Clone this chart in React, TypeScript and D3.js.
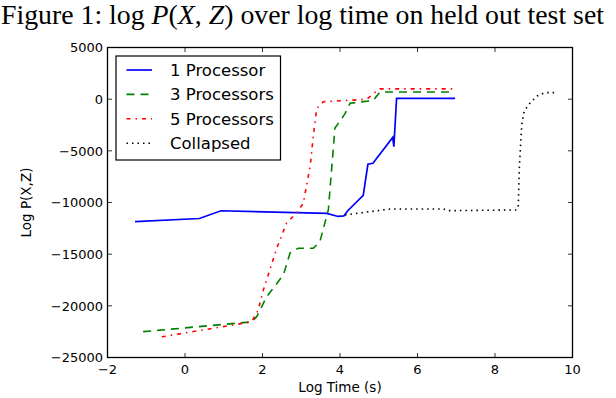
import React from "react";
import * as d3 from "d3";

// values
const proc1X = [-1.29, 0.37, 0.93, 3.66, 3.95, 4.1, 4.2, 4.6, 4.72, 4.85, 5.36, 5.39, 5.46, 6.97];
const proc1Y = [-11850, -11550, -10800, -11050, -11350, -11300, -10800, -9300, -6300, -6200, -3700, -4600, 80, 80];

const proc3X = [-1.08, 1.72, 1.85, 2.11, 2.54, 2.71, 2.92, 3.31, 3.48, 3.7, 3.74, 3.87, 4.13, 4.26, 4.86, 5.03, 6.88];
const proc3Y = [-22500, -21550, -21050, -19100, -17000, -14900, -14430, -14430, -13800, -10700, -8800, -2800, -1400, -400, -120, 700, 700];

const proc5X = [-0.6, 1.72, 1.89, 2.02, 2.19, 2.37, 2.62, 2.88, 3.05, 3.23, 3.31, 3.4, 3.57, 4.69, 4.9, 5.03, 6.92];
const proc5Y = [-23000, -21550, -20400, -18500, -16500, -14400, -12000, -11000, -10100, -6500, -3600, -900, -250, -10, 650, 1000, 1000];

const collX = [4.13, 4.34, 5.29, 6.67, 6.8, 8.56, 8.6, 8.63, 8.69, 8.75, 8.86, 9.08, 9.29, 9.57];
const collY = [-11200, -11100, -10630, -10630, -10790, -10720, -10400, -6500, -2500, -1200, -560, 300, 630, 630];

const xTicks = [-2, 0, 2, 4, 6, 8, 10];
const yTicks = [5000, 0, -5000, -10000, -15000, -20000, -25000];

const seriesNames = ["1 Processor", "3 Processors", "5 Processors", "Collapsed"];

const W = 616;
const H = 398;
const left = 107.5, right = 572.5, top = 47.5, bottom = 357.5;

const series = [
  { name: seriesNames[0], xs: proc1X, ys: proc1Y, color: "#0000ff", dash: "none", width: 1.7 },
  { name: seriesNames[1], xs: proc3X, ys: proc3Y, color: "#008000", dash: "8,6", width: 1.6 },
  { name: seriesNames[2], xs: proc5X, ys: proc5Y, color: "#ff0000", dash: "4,5,1.5,5", width: 1.6 },
  { name: seriesNames[3], xs: collX, ys: collY, color: "#000000", dash: "1.5,4", width: 1.6 },
];

export default function App() {
  const x = d3.scaleLinear().domain([-2, 10]).range([left, right]);
  const y = d3.scaleLinear().domain([-25000, 5000]).range([bottom, top]);
  const line = d3
    .line<[number, number]>()
    .x((d) => x(d[0]))
    .y((d) => y(d[1]));

  const tickFont = { fontFamily: "DejaVu Sans", fontSize: 13 };
  const tl = 4.5;

  return (
    <svg
      width={W}
      height={H}
      style={{ position: "absolute", left: 0, top: 0, background: "#fff" }}
    >
      <text x={1} y={24} fontFamily="Liberation Serif" fontSize={27.8} fill="#000">
        Figure 1: log <tspan fontStyle="italic">P</tspan>(<tspan fontStyle="italic">X</tspan>,{" "}
        <tspan fontStyle="italic">Z</tspan>) over log time on held out test set
      </text>

      <defs>
        <clipPath id="plot">
          <rect x={left} y={top} width={right - left} height={bottom - top} />
        </clipPath>
      </defs>

      <g clipPath="url(#plot)">
        {series.map((s) => (
          <path
            key={s.name}
            d={line(s.xs.map((v, i) => [v, s.ys[i]] as [number, number])) || ""}
            fill="none"
            stroke={s.color}
            strokeWidth={s.width}
            strokeDasharray={s.dash}
          />
        ))}
      </g>

      {/* ticks, inward on all four sides */}
      {xTicks.map((t) => (
        <g key={"x" + t}>
          <line x1={x(t)} x2={x(t)} y1={bottom} y2={bottom - tl} stroke="#000" strokeWidth={0.8} />
          <line x1={x(t)} x2={x(t)} y1={top} y2={top + tl} stroke="#000" strokeWidth={0.8} />
          <text x={x(t)} y={374} textAnchor="middle" {...tickFont}>
            {t < 0 ? "\u2212" + Math.abs(t) : t}
          </text>
        </g>
      ))}
      {yTicks.map((t) => (
        <g key={"y" + t}>
          <line x1={left} x2={left + tl} y1={y(t)} y2={y(t)} stroke="#000" strokeWidth={0.8} />
          <line x1={right} x2={right - tl} y1={y(t)} y2={y(t)} stroke="#000" strokeWidth={0.8} />
          <text x={103} y={y(t)} dy="0.36em" textAnchor="end" {...tickFont}>
            {t < 0 ? "\u2212" + Math.abs(t) : t}
          </text>
        </g>
      ))}

      <rect x={left} y={top} width={right - left} height={bottom - top} fill="none" stroke="#000" strokeWidth={1.3} />

      <text x={(left + right) / 2} y={392} textAnchor="middle" fontFamily="DejaVu Sans" fontSize={13.5}>
        Log Time (s)
      </text>
      <text
        transform={`translate(31,${(top + bottom) / 2}) rotate(-90)`}
        textAnchor="middle"
        fontFamily="DejaVu Sans"
        fontSize={13.5}
      >
        Log P(X,Z)
      </text>

      {/* legend */}
      <rect x={116} y={56} width={164.5} height={104} fill="#fff" stroke="#000" strokeWidth={1.2} />
      {series.map((s, i) => {
        const ly = 70 + i * 24.4;
        return (
          <g key={"lg" + s.name}>
            <line x1={126.5} x2={152} y1={ly} y2={ly} stroke={s.color} strokeWidth={s.width} strokeDasharray={s.dash} />
            <text x={170} y={ly} dy="0.36em" fontFamily="DejaVu Sans" fontSize={16.5}>
              {s.name}
            </text>
          </g>
        );
      })}
    </svg>
  );
}
